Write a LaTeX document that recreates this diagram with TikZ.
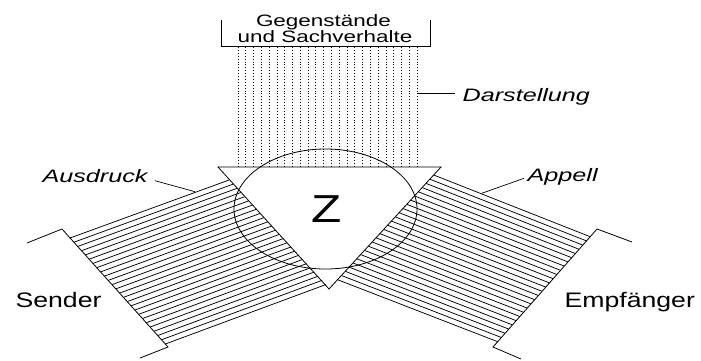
\documentclass[tikz,border=0pt]{standalone}
\usepackage{fontspec}
\setmainfont{Liberation Sans}
\usetikzlibrary{calc,shapes.geometric}
\begin{document}
\begin{tikzpicture}[x=1pt,y=-1pt,line width=0.8pt,
  hatch/.style={line width=0.75pt},
  dotline/.style={line width=0.7pt,dash pattern=on 0.9pt off 2pt},
  outline/.style={line width=0.8pt},
  lead/.style={line width=0.7pt},
  bigtext/.style={inner sep=0pt,font=\fontsize{21}{21}\selectfont,xscale=1.27},
  toptext/.style={inner sep=0pt,font=\fontsize{16.5}{16.5}\selectfont,xscale=1.36},
  itlabel/.style={inner sep=0pt,font=\fontsize{18}{18}\selectfont\itshape,xscale=1.4}]
\useasboundingbox (0,0) rectangle (701,360);

% key points
\coordinate (tl) at (218,167);
\coordinate (tr) at (441,167);
\coordinate (tb) at (329,289);
% top bracket
\coordinate (b1) at (221,20);
\coordinate (b2) at (221,46);
\coordinate (b3) at (430,46);
\coordinate (b4) at (430,20);
% left bracket
\coordinate (l1) at (27,243);
\coordinate (l2) at (62,229);
\coordinate (l3) at (168,347);
\coordinate (l4) at (140,358);
% right bracket
\coordinate (r1) at (632,242);
\coordinate (r2) at (597,229);
\coordinate (r3) at (493,347);
\coordinate (r4) at (521,359);
% hatch band ends
\coordinate (ls0) at (70,238);
\coordinate (ls1) at (165.3,344);
\coordinate (le0) at (229.1,180);
\coordinate (le1) at (326,284.5);
\coordinate (rs0) at (590.2,236.7);
\coordinate (rs1) at (497.7,341.7);
\coordinate (re0) at (433.7,175);
\coordinate (re1) at (337.6,279.7);

% dotted lines (Darstellung)
\foreach \i in {0,...,23} {
  \draw[dotline] ({238+\i*179/23},47) -- ({238+\i*179/23},167);
}
% hatch (Ausdruck / Appell)
\foreach \i in {0,...,25} {
  \pgfmathsetmacro\t{\i/25}
  \draw[hatch] ($(ls0)!\t!(ls1)$) -- ($(le0)!\t!(le1)$);
  \draw[hatch] ($(rs0)!\t!(rs1)$) -- ($(re0)!\t!(re1)$);
}

% outlines
\draw[outline] (b1) -- (b2) -- (b3) -- (b4);
\draw[outline] (l1) -- (l2) -- (l3) -- (l4);
\draw[outline] (r1) -- (r2) -- (r3) -- (r4);
\draw[outline] (tl) -- (tr) -- (tb) -- cycle;
\node[draw,ellipse,outline,minimum width=183pt,minimum height=120pt,inner sep=0pt] (circ) at (325.5,209) {};
\node[inner sep=0pt,font=\fontsize{39}{39}\selectfont,xscale=1.27] (z) at (326.5,209) {Z};

% texts
\node[toptext,anchor=base] (gs1) at (323.4,26) {Gegenstände};
\node[toptext,anchor=base] (gs2) at (325,42.5) {und Sachverhalte};
\node[bigtext,anchor=base west] (sender) at (15,307) {Sender};
\node[bigtext,anchor=base west] (empf) at (564,307) {Empfänger};
\node[itlabel,anchor=base west] (darst) at (462,101) {Darstellung};
\node[itlabel,anchor=base west] (ausdr) at (42,182.7) {Ausdruck};
\node[itlabel,anchor=base west] (appell) at (527,181.7) {Appell};

% leader lines
\coordinate (d1) at (418,93);
\coordinate (d2) at (455,93);
\coordinate (a1) at (155,180.7);
\coordinate (a2) at (195,191.7);
\coordinate (p1) at (524,178.3);
\coordinate (p2) at (481.7,193.3);
\draw[lead] (d1) -- (d2);
\draw[lead] (a1) -- (a2);
\draw[lead] (p1) -- (p2);
\end{tikzpicture}
\end{document}
